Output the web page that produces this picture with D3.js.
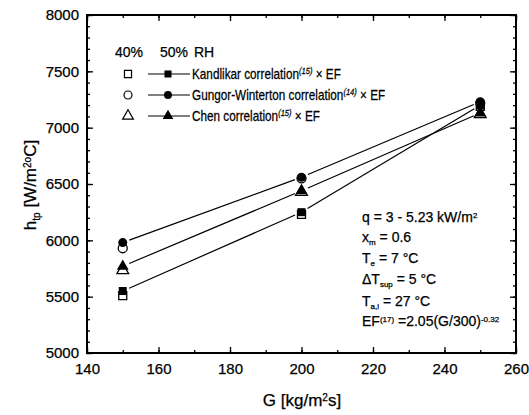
<!DOCTYPE html>
<html>
<head>
<meta charset="utf-8">
<script src="https://cdn.jsdelivr.net/npm/d3@7"></script>
<style>
  body { margin: 0; background: #fff; }
  svg { display: block; font-family: "Liberation Sans", Arial, sans-serif; }
  text { stroke: #000; stroke-width: 0.25px; }
</style>
</head>
<body>
<div id="chart"></div>
<script>
// mass flux G [kg/m2s]
const massFlux = [150, 200, 250]
// h_tp at 50% RH (filled) and 40% RH (open)
const kandlikar50 = [5550, 6250, 7200]
const kandlikar40 = [5510, 6230, 7190]
const gungor50 = [5980, 6560, 7230]
const gungor40 = [5930, 6550, 7220]
const chen50 = [5770, 6440, 7130]
const chen40 = [5735, 6430, 7120]

const xTicks = [140, 160, 180, 200, 220, 240, 260]
const yTicks = [5000, 5500, 6000, 6500, 7000, 7500, 8000]

const width = 529, height = 415
const plot = { left: 87, right: 516, top: 15, bottom: 353 }

const svg = d3.select("#chart").append("svg")
    .attr("width", width)
    .attr("height", height)

const x = d3.scaleLinear().domain([140, 260]).range([plot.left, plot.right])
const y = d3.scaleLinear().domain([5000, 8000]).range([plot.bottom, plot.top])

// ticks point inward on all four sides
const minorX = d3.range(140, 261, 10)
const minorY = d3.range(5000, 8001, 100)

svg.append("g")
    .attr("transform", `translate(0,${plot.bottom})`)
    .call(d3.axisBottom(x).tickValues(minorX).tickSize(-3).tickFormat(""))
svg.append("g")
    .attr("transform", `translate(0,${plot.bottom})`)
    .call(d3.axisBottom(x).tickValues(xTicks).tickSize(-6).tickPadding(10).tickFormat(d3.format("d")))
svg.append("g")
    .attr("transform", `translate(0,${plot.top})`)
    .call(d3.axisTop(x).tickValues(minorX).tickSize(-3).tickFormat(""))
svg.append("g")
    .attr("transform", `translate(0,${plot.top})`)
    .call(d3.axisTop(x).tickValues(xTicks).tickSize(-6).tickFormat(""))

svg.append("g")
    .attr("transform", `translate(${plot.left},0)`)
    .call(d3.axisLeft(y).tickValues(minorY).tickSize(-3).tickFormat(""))
svg.append("g")
    .attr("transform", `translate(${plot.left},0)`)
    .call(d3.axisLeft(y).tickValues(yTicks).tickSize(-6).tickPadding(8).tickFormat(d3.format("d")))
svg.append("g")
    .attr("transform", `translate(${plot.right},0)`)
    .call(d3.axisRight(y).tickValues(minorY).tickSize(-3).tickFormat(""))
svg.append("g")
    .attr("transform", `translate(${plot.right},0)`)
    .call(d3.axisRight(y).tickValues(yTicks).tickSize(-6).tickFormat(""))

svg.selectAll(".domain").remove()
svg.selectAll(".tick line").attr("stroke", "#000").attr("stroke-width", 1.3)
svg.selectAll(".tick text")
    .attr("fill", "#000")
    .attr("font-size", 15)
    .attr("font-family", "Liberation Sans, Arial, sans-serif")

svg.append("rect")
    .attr("x", plot.left)
    .attr("y", plot.top)
    .attr("width", plot.right - plot.left)
    .attr("height", plot.bottom - plot.top)
    .attr("fill", "none")
    .attr("stroke", "#000")
    .attr("stroke-width", 2)

const series = [
    { filled: kandlikar50, open: kandlikar40, shape: d3.symbolSquare, size: 64 },
    { filled: gungor50, open: gungor40, shape: d3.symbolCircle, size: 64 },
    { filled: chen50, open: chen40, shape: d3.symbolTriangle, size: 60 }
]

// connecting lines, broken around each marker
const gap = 7
series.forEach(s => {
    const pts = massFlux.map((g, i) => [x(g), y(s.filled[i])])
    for (let i = 0; i < pts.length - 1; i++) {
        const [x1, y1] = pts[i], [x2, y2] = pts[i + 1]
        const len = Math.hypot(x2 - x1, y2 - y1)
        const ux = (x2 - x1) / len, uy = (y2 - y1) / len
        svg.append("line")
            .attr("x1", x1 + ux * gap).attr("y1", y1 + uy * gap)
            .attr("x2", x2 - ux * gap).attr("y2", y2 - uy * gap)
            .attr("stroke", "#000")
            .attr("stroke-width", 1.2)
    }
})

series.forEach(s => {
    svg.append("g").selectAll("path")
        .data(massFlux)
        .join("path")
        .attr("d", d3.symbol().type(s.shape).size(s.size))
        .attr("transform", (d, i) => `translate(${x(d)},${y(s.open[i])})`)
        .attr("fill", "#fff")
        .attr("stroke", "#000")
        .attr("stroke-width", 1.3)
})
series.forEach(s => {
    svg.append("g").selectAll("path")
        .data(massFlux)
        .join("path")
        .attr("d", d3.symbol().type(s.shape).size(s.size))
        .attr("transform", (d, i) => `translate(${x(d)},${y(s.filled[i])})`)
        .attr("fill", "#000")
})

// legend (condensed lettering)
const legend = svg.append("g").attr("font-size", 14).attr("fill", "#000")
legend.append("text").attr("x", 115).attr("y", 57).text("40%")
legend.append("text").attr("x", 160).attr("y", 57).text("50%")
legend.append("text").attr("x", 194).attr("y", 57).text("RH")

const legendRows = [
    { shape: d3.symbolSquare, size: 50, label: "Kandlikar correlation", ref: "(15)" },
    { shape: d3.symbolCircle, size: 50, label: "Gungor-Winterton correlation", ref: "(14)" },
    { shape: d3.symbolTriangle, size: 50, label: "Chen correlation", ref: "(15)" }
]
legendRows.forEach((r, i) => {
    const ly = 74 + i * 21
    legend.append("path")
        .attr("d", d3.symbol().type(r.shape).size(r.size))
        .attr("transform", `translate(128,${ly})`)
        .attr("fill", "#fff")
        .attr("stroke", "#000")
        .attr("stroke-width", 1.2)
    legend.append("line")
        .attr("x1", 148).attr("x2", 190)
        .attr("y1", ly).attr("y2", ly)
        .attr("stroke", "#000").attr("stroke-width", 1.2)
    legend.append("path")
        .attr("d", d3.symbol().type(r.shape).size(r.size))
        .attr("transform", `translate(168,${ly})`)
        .attr("fill", "#000")
    const t = legend.append("text")
        .attr("transform", `translate(192,${ly + 5}) scale(0.84,1)`)
    t.append("tspan").text(r.label)
    t.append("tspan").attr("font-size", 9).attr("font-style", "italic")
        .attr("baseline-shift", "60%").text(r.ref)
    t.append("tspan").text(" × EF")
})

// operating conditions
const notes = svg.append("g").attr("font-size", 14).attr("fill", "#000")
function note(yy, parts) {
    const t = notes.append("text").attr("x", 362).attr("y", yy)
    parts.forEach(p => {
        const s = t.append("tspan").text(p.t)
        if (p.sub) s.attr("font-size", 8).attr("baseline-shift", "-35%")
        if (p.sup) s.attr("font-size", 8).attr("baseline-shift", "55%")
    })
}
note(222, [{ t: "q = 3 - 5.23 kW/m" }, { t: "2", sup: true }])
note(242, [{ t: "x" }, { t: "m", sub: true }, { t: " = 0.6" }])
note(263, [{ t: "T" }, { t: "e", sub: true }, { t: " = 7 °C" }])
note(284, [{ t: "ΔT" }, { t: "sup", sub: true }, { t: " = 5 °C" }])
note(306, [{ t: "T" }, { t: "a,i", sub: true }, { t: " = 27 °C" }])
note(326, [{ t: "EF" }, { t: "(17)", sup: true }, { t: " =2.05(G/300)" }, { t: "-0.32", sup: true }])

// axis titles
const xTitle = svg.append("text")
    .attr("x", 302).attr("y", 406)
    .attr("text-anchor", "middle")
    .attr("font-size", 17)
xTitle.append("tspan").text("G [kg/m")
xTitle.append("tspan").attr("font-size", 10).attr("baseline-shift", "55%").text("2")
xTitle.append("tspan").text("s]")

const yTitle = svg.append("text")
    .attr("transform", "translate(36,185) rotate(-90)")
    .attr("text-anchor", "middle")
    .attr("font-size", 17)
yTitle.append("tspan").text("h")
yTitle.append("tspan").attr("font-size", 10).attr("baseline-shift", "-35%").text("tp")
yTitle.append("tspan").text(" [W/m")
yTitle.append("tspan").attr("font-size", 10).attr("baseline-shift", "55%").text("2o")
yTitle.append("tspan").text("C]")
</script>
</body>
</html>
